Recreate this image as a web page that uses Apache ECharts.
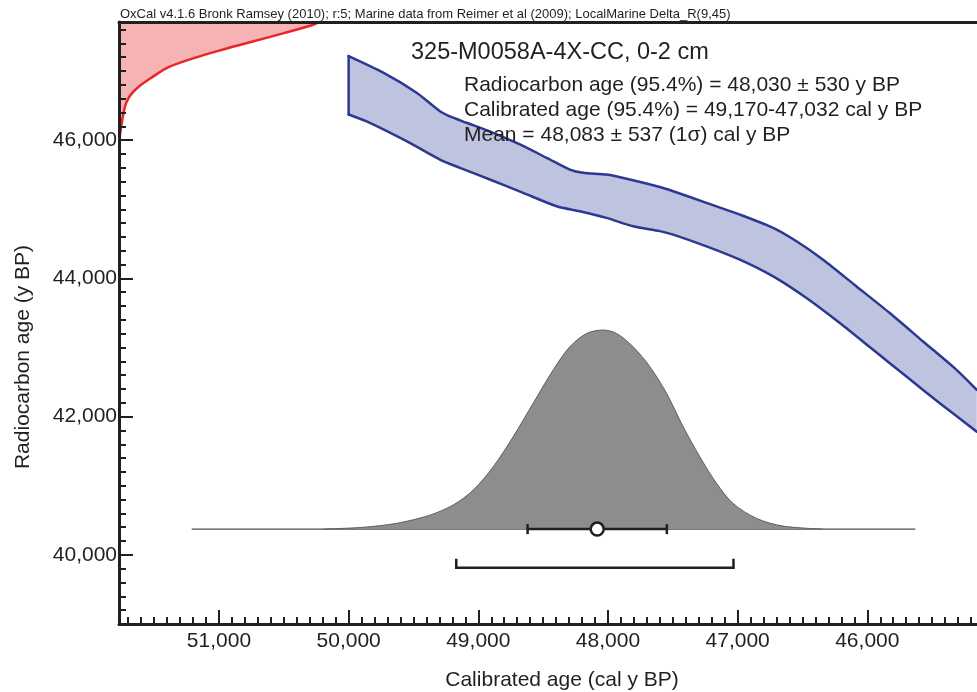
<!DOCTYPE html>
<html>
<head>
<meta charset="utf-8">
<script src="https://cdn.jsdelivr.net/npm/echarts@6/dist/echarts.min.js"></script>
<style>
  html, body { margin: 0; padding: 0; background: #ffffff; }
  #chart { width: 977px; height: 692px; }
</style>
</head>
<body>
<div id="chart"></div>
<script>
// ---- Axis extents -------------------------------------------------------
const CAL_MIN = 45100;   // cal y BP, right edge (axis is reversed)
const CAL_MAX = 51771;   // cal y BP, left edge
const C14_MIN = 39000;   // radiocarbon y BP, bottom
const C14_MAX = 47710;   // radiocarbon y BP, top

// ---- Marine calibration curve, ±1σ envelope -----------------------------
const bandUpperCal = [50000, 49733, 49476, 49296, 49194, 49090, 48885, 48679, 48473, 48294, 48191, 48011,
                      47831, 47600, 47497, 47240, 46983, 46726, 46546, 46341, 46083, 45827, 45570, 45312, 45156];
const bandUpperC14 = [47217, 46977, 46687, 46420, 46325, 46252, 46107, 45938, 45745, 45575, 45528, 45503,
                      45431, 45322, 45261, 45093, 44923, 44731, 44537, 44271, 43884, 43499, 43088, 42677, 42388];
const bandLowerCal = [50000, 49836, 49553, 49296, 49142, 48911, 48654, 48396, 48217, 48011, 47806, 47600,
                      47497, 47240, 46983, 46726, 46469, 46212, 45955, 45698, 45441, 45156];
const bandLowerC14 = [46372, 46252, 45986, 45720, 45600, 45431, 45238, 45044, 44971, 44876, 44754, 44684,
                      44634, 44464, 44271, 44029, 43716, 43354, 42967, 42580, 42195, 41783];

// ---- Radiocarbon measurement distribution (lower tail, along the y axis) ---
const measCal = [51767, 51755, 51740, 51717, 51679, 51617, 51517, 51393, 51200, 50992, 50761, 50507, 50298, 50206];
const measC14 = [46039, 46184, 46358, 46532, 46662, 46778, 46909, 47053, 47184, 47300, 47416, 47546, 47655, 47727];

// ---- Calibrated age probability distribution ------------------------------
const calProbAge = [50196, 49887, 49630, 49373, 49194, 49039, 48885, 48731, 48577, 48423, 48294, 48165,
                    48037, 47934, 47806, 47677, 47548, 47420, 47291, 47163, 47035, 46855, 46650, 46342];
const calProb    = [0, 0.009, 0.029, 0.070, 0.121, 0.196, 0.313, 0.464, 0.632, 0.799, 0.916, 0.983,
                    1.0, 0.983, 0.916, 0.816, 0.682, 0.514, 0.363, 0.230, 0.129, 0.054, 0.015, 0];
const calPlotRange = [51210, 45630];   // extent of the distribution's baseline

// ---- Summary statistics -------------------------------------------------
const calMean = 48083;
const calSigmaRange = [48620, 47546];   // mean ± 1σ
const cal95Range = [49170, 47032];      // 95.4% range

// Placement of the distribution within the plot (radiocarbon-axis units)
const DIST_BASE = 40373;
const DIST_PEAK = 2880;
const RANGE_LEVEL = 39813;

const labelText = {
  header: 'OxCal v4.1.6 Bronk Ramsey (2010); r:5; Marine data from Reimer et al (2009); LocalMarine Delta_R(9,45)',
  title: '325-M0058A-4X-CC, 0-2 cm',
  lines: [
    'Radiocarbon age (95.4%) = 48,030 \u00b1 530 y BP',
    'Calibrated age (95.4%) = 49,170-47,032 cal y BP',
    'Mean = 48,083 \u00b1 537 (1\u03c3) cal y BP'
  ],
  xName: 'Calibrated age (cal y BP)',
  yName: 'Radiocarbon age (y BP)'
};

const INK = '#231f20';
const FONT = "'Liberation Sans', Arial, Helvetica, sans-serif";
const fmt = v => String(Math.round(v)).replace(/\B(?=(\d{3})+(?!\d))/g, ',');

const zip = (a, b) => a.map((v, i) => [v, b[i]]);

const chart = echarts.init(document.getElementById('chart'), null, { renderer: 'canvas' });

const option = {
  animation: false,
  backgroundColor: '#ffffff',
  grid: { left: 119, right: -7, top: 22, bottom: 68, containLabel: false, outerBoundsMode: 'none' },
  xAxis: [
    {
      type: 'value', inverse: true, min: CAL_MIN, max: CAL_MAX, splitNumber: 5, z: 5,
      axisLine: { show: true, lineStyle: { color: INK, width: 3 } },
      axisTick: { show: true, inside: true, length: 14, lineStyle: { color: INK, width: 2 } },
      minorTick: { show: true, splitNumber: 10, length: 7, lineStyle: { color: INK, width: 2 } },
      axisLabel: {
        show: true, margin: 7, color: INK, fontSize: 21, fontFamily: FONT,
        showMinLabel: false, showMaxLabel: false,
        formatter: v => (v % 1000 === 0 ? fmt(v) : '')
      },
      splitLine: { show: false }, minorSplitLine: { show: false }
    },
    {
      type: 'value', inverse: true, min: CAL_MIN, max: CAL_MAX, position: 'top', z: 5,
      axisLine: { show: true, lineStyle: { color: INK, width: 3 } },
      axisTick: { show: false }, axisLabel: { show: false }, splitLine: { show: false }
    }
  ],
  yAxis: [
    {
      type: 'value', min: C14_MIN, max: C14_MAX, splitNumber: 4, z: 5,
      axisLine: { show: true, lineStyle: { color: INK, width: 3 } },
      axisTick: { show: true, inside: true, length: 14, lineStyle: { color: INK, width: 2 } },
      minorTick: { show: true, splitNumber: 10, length: 7, lineStyle: { color: INK, width: 2 } },
      axisLabel: {
        show: true, margin: 2, color: INK, fontSize: 21, fontFamily: FONT,
        showMinLabel: false, showMaxLabel: false,
        formatter: v => (v % 2000 === 0 ? fmt(v) : '')
      },
      splitLine: { show: false }, minorSplitLine: { show: false }
    }
  ],
  series: [
    // Measurement distribution, filled toward the top-left corner
    {
      type: 'line', name: 'measurement', z: 1,
      data: zip(measCal, measC14),
      showSymbol: false, smooth: 0.3,
      lineStyle: { color: '#e8262a', width: 2.5 },
      areaStyle: { color: '#f6b3b4', opacity: 1, origin: 'end' },
      silent: true
    },
    // Calibration curve envelope
    {
      type: 'custom', name: 'calibration', z: 2, clip: true,
      data: [[bandUpperCal[0], bandUpperC14[0]]],
      renderItem: (params, api) => {
        const up = zip(bandUpperCal, bandUpperC14).map(p => api.coord(p));
        const lo = zip(bandLowerCal, bandLowerC14).map(p => api.coord(p));
        const stroke = { fill: null, stroke: '#2b3990', lineWidth: 2.5, lineJoin: 'round', lineCap: 'round' };
        return {
          type: 'group',
          children: [
            { type: 'polygon', shape: { points: up.concat(lo.slice().reverse()) },
              style: { fill: '#bec3e0', stroke: null } },
            { type: 'polyline', shape: { points: up, smooth: 0.25 }, style: stroke },
            { type: 'polyline', shape: { points: lo, smooth: 0.25 }, style: stroke },
            { type: 'polyline', shape: { points: [lo[0], up[0]] }, style: stroke }
          ]
        };
      },
      silent: true
    },
    // Baseline of the calibrated distribution
    {
      type: 'line', name: 'baseline', z: 3,
      data: [[calPlotRange[0], DIST_BASE], [calPlotRange[1], DIST_BASE]],
      showSymbol: false, lineStyle: { color: INK, width: 1 }, silent: true
    },
    // Calibrated age distribution
    {
      type: 'line', name: 'calibrated', z: 4,
      data: calProbAge.map((a, i) => [a, DIST_BASE + calProb[i] * DIST_PEAK]),
      showSymbol: false, smooth: 0.3,
      lineStyle: { color: '#5f5d5d', width: 1 },
      areaStyle: { color: '#8e8c8c', opacity: 1, origin: DIST_BASE },
      silent: true
    },
    // 1σ error bar and 95.4% range bracket
    {
      type: 'custom', name: 'ranges', z: 6,
      data: [[calMean, DIST_BASE]],
      renderItem: (params, api) => {
        const a = api.coord([calSigmaRange[0], DIST_BASE]);
        const b = api.coord([calSigmaRange[1], DIST_BASE]);
        const c = api.coord([cal95Range[0], RANGE_LEVEL]);
        const d = api.coord([cal95Range[1], RANGE_LEVEL]);
        const st = { fill: null, stroke: INK, lineWidth: 2.5, lineJoin: 'miter', lineCap: 'butt' };
        return {
          type: 'group',
          children: [
            { type: 'line', shape: { x1: a[0], y1: a[1], x2: b[0], y2: b[1] }, style: st },
            { type: 'line', shape: { x1: a[0], y1: a[1] - 5, x2: a[0], y2: a[1] + 5 }, style: st },
            { type: 'line', shape: { x1: b[0], y1: b[1] - 5, x2: b[0], y2: b[1] + 5 }, style: st },
            { type: 'polyline', shape: { points: [[c[0], c[1] - 9], c, d, [d[0], d[1] - 9]] }, style: st }
          ]
        };
      },
      silent: true
    },
    // Mean
    {
      type: 'scatter', name: 'mean', z: 7,
      data: [[calMean, DIST_BASE]],
      symbol: 'circle', symbolSize: 13,
      itemStyle: { color: '#ffffff', borderColor: INK, borderWidth: 2.5, opacity: 1 },
      silent: true
    }
  ],
  graphic: [
    { type: 'text', x: 120, y: 14, z: 20,
      style: { text: labelText.header, fill: INK, fontSize: 13, fontFamily: FONT, align: 'left', verticalAlign: 'middle' } },
    { type: 'text', x: 411, y: 53, z: 20,
      style: { text: labelText.title, fill: INK, fontSize: 23.5, fontFamily: FONT, align: 'left', verticalAlign: 'middle' } },
    { type: 'text', x: 464, y: 85, z: 20,
      style: { text: labelText.lines[0], fill: INK, fontSize: 21, fontFamily: FONT, align: 'left', verticalAlign: 'middle' } },
    { type: 'text', x: 464, y: 110, z: 20,
      style: { text: labelText.lines[1], fill: INK, fontSize: 21, fontFamily: FONT, align: 'left', verticalAlign: 'middle' } },
    { type: 'text', x: 464, y: 135, z: 20,
      style: { text: labelText.lines[2], fill: INK, fontSize: 21, fontFamily: FONT, align: 'left', verticalAlign: 'middle' } },
    { type: 'text', x: 562, y: 680, z: 20,
      style: { text: labelText.xName, fill: INK, fontSize: 21, fontFamily: FONT, align: 'center', verticalAlign: 'middle' } },
    { type: 'text', x: 23, y: 357, rotation: Math.PI / 2, z: 20,
      style: { text: labelText.yName, fill: INK, fontSize: 21, fontFamily: FONT, align: 'center', verticalAlign: 'middle' } }
  ]
};

chart.setOption(option);
</script>
</body>
</html>
